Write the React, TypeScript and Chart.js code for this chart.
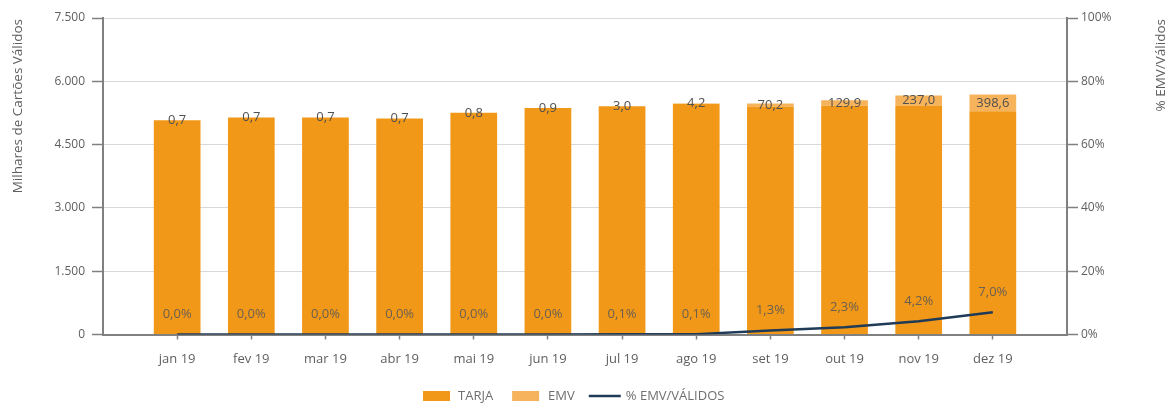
import React, { useEffect, useRef } from "react";
import { Chart, registerables } from "chart.js";

Chart.register(...registerables);

const months = ["jan 19", "fev 19", "mar 19", "abr 19", "mai 19", "jun 19", "jul 19", "ago 19", "set 19", "out 19", "nov 19", "dez 19"];
const tarja = [5077, 5141, 5141, 5117, 5252, 5366, 5407, 5470, 5404, 5422, 5427, 5288];
const emv = [0.7, 0.7, 0.7, 0.7, 0.8, 0.9, 3.0, 4.2, 70.2, 129.9, 237.0, 398.6];
const pctEmv = [0.0, 0.0, 0.0, 0.0, 0.0, 0.0, 0.1, 0.1, 1.3, 2.3, 4.2, 7.0];
const leftTicks = [0, 1500, 3000, 4500, 6000, 7500];
const rightTicks = [0, 20, 40, 60, 80, 100];

const COL_TARJA = "#F29818";
const COL_EMV = "#F6B35C";
const COL_LINE = "#1F3B57";
const AXIS = "#808080";
const FONT = "'Open Sans', 'DejaVu Sans', sans-serif";

const fmtComma = (v: number) => v.toFixed(1).replace(".", ",");
const fmtThousands = (v: number) => String(v).replace(/\B(?=(\d{3})+(?!\d))/g, ".");

const labelsPlugin = {
  id: "customLabels",
  afterDatasetsDraw(chart: any) {
    const ctx = chart.ctx;
    ctx.save();
    ctx.font = `13px ${FONT}`;
    ctx.textAlign = "center";
    ctx.textBaseline = "middle";
    const emvMeta = chart.getDatasetMeta(2);
    emvMeta.data.forEach((el: any, i: number) => {
      const cy = (el.y + el.base) / 2;
      ctx.fillStyle = "#505050";
      ctx.fillText(fmtComma(emv[i]), el.x, cy);
    });
    const lineMeta = chart.getDatasetMeta(0);
    lineMeta.data.forEach((pt: any, i: number) => {
      ctx.fillStyle = "#6a5f50";
      ctx.fillText(fmtComma(pctEmv[i]) + "%", pt.x, pt.y - 20);
    });
    ctx.restore();
  },
  afterDraw(chart: any) {
    const ctx = chart.ctx;
    ctx.save();
    ctx.font = `13.5px ${FONT}`;
    ctx.fillStyle = "#5f5f5f";
    ctx.textBaseline = "middle";
    ctx.save();
    ctx.translate(18, chart.chartArea.top + 1);
    ctx.rotate(-Math.PI / 2);
    ctx.textAlign = "right";
    ctx.fillText("Milhares de Cartões Válidos", 0, 0);
    ctx.restore();
    ctx.save();
    ctx.translate(1161, chart.chartArea.top + 1);
    ctx.rotate(-Math.PI / 2);
    ctx.textAlign = "right";
    ctx.fillText("% EMV/Válidos", 0, 0);
    ctx.restore();
    // legend
    ctx.font = `13px ${FONT}`;
    const ly = 396;
    let x = 423;
    const boxW = 27;
    const boxH = 10;
    ctx.textAlign = "left";
    ctx.fillStyle = COL_TARJA;
    ctx.fillRect(x, ly - boxH / 2, boxW, boxH);
    x += boxW + 8;
    ctx.fillStyle = "#6f6f6f";
    ctx.fillText("TARJA", x, ly);
    x += ctx.measureText("TARJA").width + 19;
    ctx.fillStyle = COL_EMV;
    ctx.fillRect(x, ly - boxH / 2, boxW, boxH);
    x += boxW + 9;
    ctx.fillStyle = "#6f6f6f";
    ctx.fillText("EMV", x, ly);
    x += ctx.measureText("EMV").width + 14;
    ctx.strokeStyle = COL_LINE;
    ctx.lineWidth = 2.5;
    ctx.beginPath();
    ctx.moveTo(x, ly);
    ctx.lineTo(x + 32, ly);
    ctx.stroke();
    x += 37;
    ctx.fillStyle = "#6f6f6f";
    ctx.fillText("% EMV/VÁLIDOS", x, ly);
    ctx.restore();
  },
};

export default function App() {
  const ref = useRef<HTMLCanvasElement | null>(null);

  useEffect(() => {
    document.body.style.margin = "0";
    if (!ref.current) return;
    const chart = new Chart(ref.current, {
      type: "bar",
      data: {
        datasets: [
          {
            type: "line",
            label: "% EMV/VÁLIDOS",
            data: pctEmv.map((v, i) => ({ x: i, y: v })),
            yAxisID: "y1",
            borderColor: COL_LINE,
            backgroundColor: COL_LINE,
            borderWidth: 2.5,
            pointRadius: 0,
            tension: 0,
            order: 0,
          } as any,
          {
            type: "bar",
            label: "TARJA",
            data: tarja.map((v, i) => ({ x: i, y: v })),
            backgroundColor: COL_TARJA,
            yAxisID: "y",
            stack: "s",
            barPercentage: 0.63,
            categoryPercentage: 1,
            order: 1,
          },
          {
            type: "bar",
            label: "EMV",
            data: emv.map((v, i) => ({ x: i, y: v })),
            backgroundColor: COL_EMV,
            yAxisID: "y",
            stack: "s",
            barPercentage: 0.63,
            categoryPercentage: 1,
            order: 1,
          },
        ],
      },
      options: {
        responsive: false,
        animation: false,
        layout: { padding: { top: 18, left: 0, right: 0, bottom: 0 } },
        plugins: {
          legend: { display: false },
          tooltip: { enabled: false },
        },
        scales: {
          x: {
            type: "linear",
            min: -1,
            max: 12,
            offset: false,
            stacked: true,
            afterBuildTicks: (scale: any) => {
              scale.ticks = months.map((_, i) => ({ value: i }));
            },
            afterFit: (scale: any) => {
              scale.height = 72.5;
            },
            ticks: {
              autoSkip: false,
              maxRotation: 0,
              padding: 12,
              color: "#5f5f5f",
              font: { family: FONT, size: 13 },
              callback: (v: any) => months[v] ?? "",
            },
            grid: { offset: false, drawOnChartArea: false, tickLength: 5, tickColor: AXIS, tickWidth: 1.5 },
            border: { color: AXIS, width: 2 },
          },
          y: {
            position: "left",
            stacked: true,
            min: 0,
            max: 7500,
            afterBuildTicks: (scale: any) => {
              scale.ticks = leftTicks.map((v) => ({ value: v }));
            },
            afterFit: (scale: any) => {
              scale.width = 103;
            },
            ticks: {
              padding: 7,
              color: "#5f5f5f",
              font: { family: FONT, size: 12 },
              callback: (v: any) => fmtThousands(v),
            },
            grid: { color: "#d9d9d9", lineWidth: 1, tickLength: 11, tickColor: AXIS, tickWidth: 1.5 },
            border: { color: AXIS, width: 2 },
          },
          y1: {
            position: "right",
            min: 0,
            max: 100,
            afterBuildTicks: (scale: any) => {
              scale.ticks = rightTicks.map((v) => ({ value: v }));
            },
            afterFit: (scale: any) => {
              scale.width = 106;
            },
            ticks: {
              padding: 3,
              color: "#5f5f5f",
              font: { family: FONT, size: 12 },
              callback: (v: any) => v + "%",
            },
            grid: { drawOnChartArea: false, tickLength: 11, tickColor: AXIS, tickWidth: 1.5 },
            border: { color: AXIS, width: 2 },
          },
        },
      } as any,
      plugins: [labelsPlugin],
    });
    return () => chart.destroy();
  }, []);

  return (
    <div style={{ width: 1173, height: 407, background: "#fff" }}>
      <canvas ref={ref} width={1173} height={407} />
    </div>
  );
}
